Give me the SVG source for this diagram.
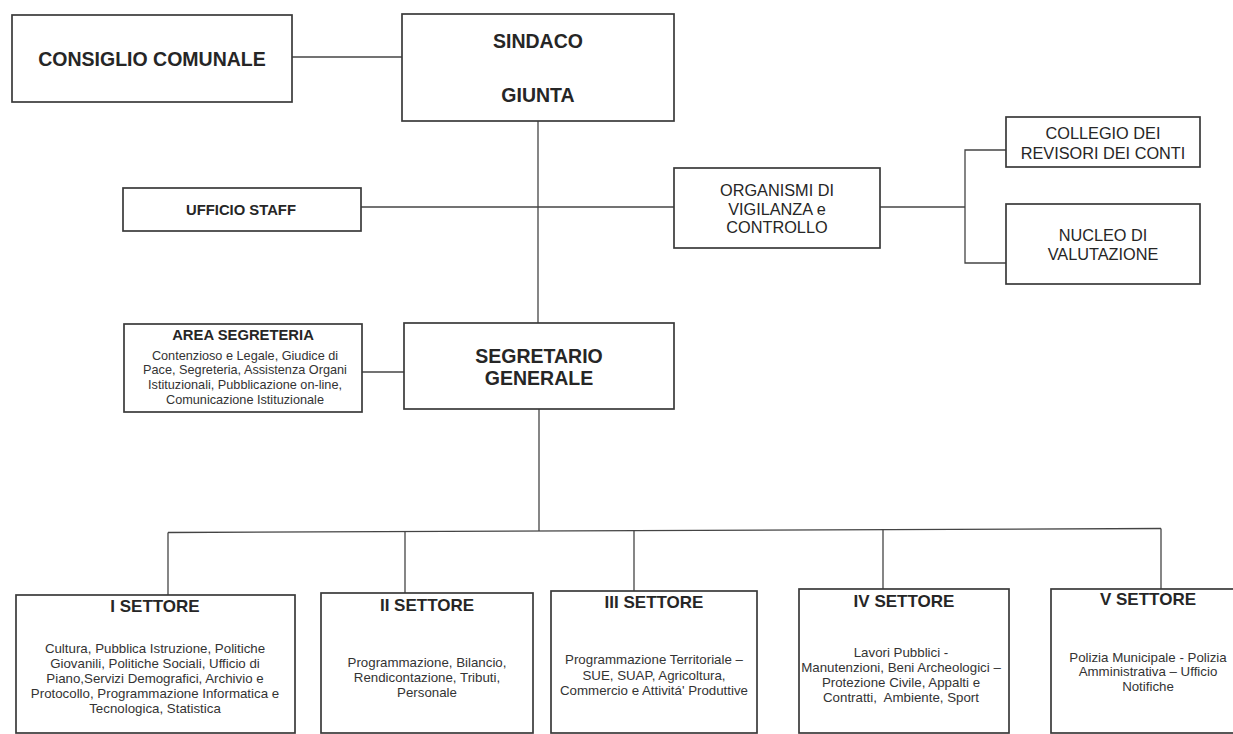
<svg xmlns="http://www.w3.org/2000/svg" width="1233" height="734" viewBox="0 0 1233 734">
<style>
  .box{fill:#fff;stroke:#3a3a3a;stroke-width:1.7}
  .ln{fill:none;stroke:#444;stroke-width:1.3}
  text{font-family:"Liberation Sans",Arial,Helvetica,sans-serif;fill:#262626;text-anchor:middle}
  .h1{font-size:19.5px;font-weight:bold}
  .h2{font-size:17px;font-weight:bold}
  .h3{font-size:14.8px;font-weight:bold}
  .m{font-size:16.3px}
  .s{font-size:13.3px;fill:#333}
  .a{font-size:12.7px;fill:#333}
</style>
<rect width="1233" height="734" fill="#fff"/>
<g id="connectors">
  <line class="ln" x1="292" y1="57" x2="402" y2="57"/>
  <line class="ln" x1="538" y1="121" x2="538" y2="323"/>
  <line class="ln" x1="361" y1="207" x2="674" y2="207"/>
  <line class="ln" x1="880" y1="207" x2="965" y2="207"/>
  <polyline class="ln" points="1006,150 965,150 965,263 1006,263"/>
  <line class="ln" x1="362" y1="372" x2="404" y2="372"/>
  <line class="ln" x1="539" y1="409" x2="539" y2="531"/>
  <line class="ln" x1="168" y1="532.5" x2="1161" y2="528.5"/>
  <line class="ln" x1="168" y1="532.5" x2="168" y2="595"/>
  <line class="ln" x1="405" y1="531.5" x2="405" y2="593"/>
  <line class="ln" x1="634" y1="530.5" x2="634" y2="591"/>
  <line class="ln" x1="883" y1="529.5" x2="883" y2="589"/>
  <line class="ln" x1="1161" y1="528.5" x2="1161" y2="589"/>
</g>
<g id="consiglio">
  <rect class="box" x="12" y="15" width="280" height="87"/>
  <text class="h1" x="152" y="66">CONSIGLIO COMUNALE</text>
</g>
<g id="sindaco">
  <rect class="box" x="402" y="14" width="272" height="107"/>
  <text class="h1" x="538" y="47.5">SINDACO</text>
  <text class="h1" x="538" y="102">GIUNTA</text>
</g>
<g id="ufficio-staff">
  <rect class="box" x="123" y="188" width="238" height="43"/>
  <text class="h3" x="241" y="215">UFFICIO STAFF</text>
</g>
<g id="organismi">
  <rect class="box" x="674" y="168" width="206" height="80"/>
  <text class="m" x="777" y="196">ORGANISMI DI</text>
  <text class="m" x="777" y="215">VIGILANZA e</text>
  <text class="m" x="777" y="233">CONTROLLO</text>
</g>
<g id="collegio">
  <rect class="box" x="1006" y="117" width="194" height="50"/>
  <text class="m" x="1103" y="139">COLLEGIO DEI</text>
  <text class="m" x="1103" y="158.5">REVISORI DEI CONTI</text>
</g>
<g id="nucleo">
  <rect class="box" x="1006" y="204" width="194" height="80"/>
  <text class="m" x="1103" y="241">NUCLEO DI</text>
  <text class="m" x="1103" y="260">VALUTAZIONE</text>
</g>
<g id="area-segreteria">
  <rect class="box" x="124" y="324" width="238" height="88"/>
  <text class="h3" x="243" y="340">AREA SEGRETERIA</text>
  <text class="a" x="245" y="359.5">Contenzioso e Legale, Giudice di</text>
  <text class="a" x="245" y="374">Pace, Segreteria, Assistenza Organi</text>
  <text class="a" x="245" y="388.5">Istituzionali, Pubblicazione on-line,</text>
  <text class="a" x="245" y="403.5">Comunicazione Istituzionale</text>
</g>
<g id="segretario">
  <rect class="box" x="404" y="323" width="270" height="86"/>
  <text class="h1" x="539" y="362.5">SEGRETARIO</text>
  <text class="h1" x="539" y="385">GENERALE</text>
</g>
<g id="settore-1">
  <rect class="box" x="16" y="595" width="279" height="138"/>
  <text class="h2" x="155" y="612">I SETTORE</text>
  <text class="s" x="155" y="653">Cultura, Pubblica Istruzione, Politiche</text>
  <text class="s" x="155" y="668">Giovanili, Politiche Sociali, Ufficio di</text>
  <text class="s" x="155" y="683">Piano,Servizi Demografici, Archivio e</text>
  <text class="s" x="155" y="698">Protocollo, Programmazione Informatica e</text>
  <text class="s" x="155" y="713">Tecnologica, Statistica</text>
</g>
<g id="settore-2">
  <rect class="box" x="321" y="593" width="212" height="140"/>
  <text class="h2" x="427" y="610.5">II SETTORE</text>
  <text class="s" x="427" y="666.5">Programmazione, Bilancio,</text>
  <text class="s" x="427" y="681.5">Rendicontazione, Tributi,</text>
  <text class="s" x="427" y="696.5">Personale</text>
</g>
<g id="settore-3">
  <rect class="box" x="551" y="591" width="206" height="142"/>
  <text class="h2" x="654" y="608">III SETTORE</text>
  <text class="s" x="654" y="664">Programmazione Territoriale –</text>
  <text class="s" x="654" y="679.5">SUE, SUAP, Agricoltura,</text>
  <text class="s" x="654" y="694.5">Commercio e Attivitá' Produttive</text>
</g>
<g id="settore-4">
  <rect class="box" x="799" y="589" width="210" height="144"/>
  <text class="h2" x="904" y="607">IV SETTORE</text>
  <text class="s" x="901" y="656.5">Lavori Pubblici -</text>
  <text class="s" x="901" y="671.5">Manutenzioni, Beni Archeologici –</text>
  <text class="s" x="901" y="686.5">Protezione Civile, Appalti e</text>
  <text class="s" x="901" y="701.5" xml:space="preserve">Contratti,  Ambiente, Sport</text>
</g>
<g id="settore-5">
  <rect class="box" x="1051" y="589" width="200" height="144"/>
  <text class="h2" x="1148" y="605">V SETTORE</text>
  <text class="s" x="1148" y="661.5">Polizia Municipale - Polizia</text>
  <text class="s" x="1148" y="676">Amministrativa – Ufficio</text>
  <text class="s" x="1148" y="690.5">Notifiche</text>
</g>
</svg>
